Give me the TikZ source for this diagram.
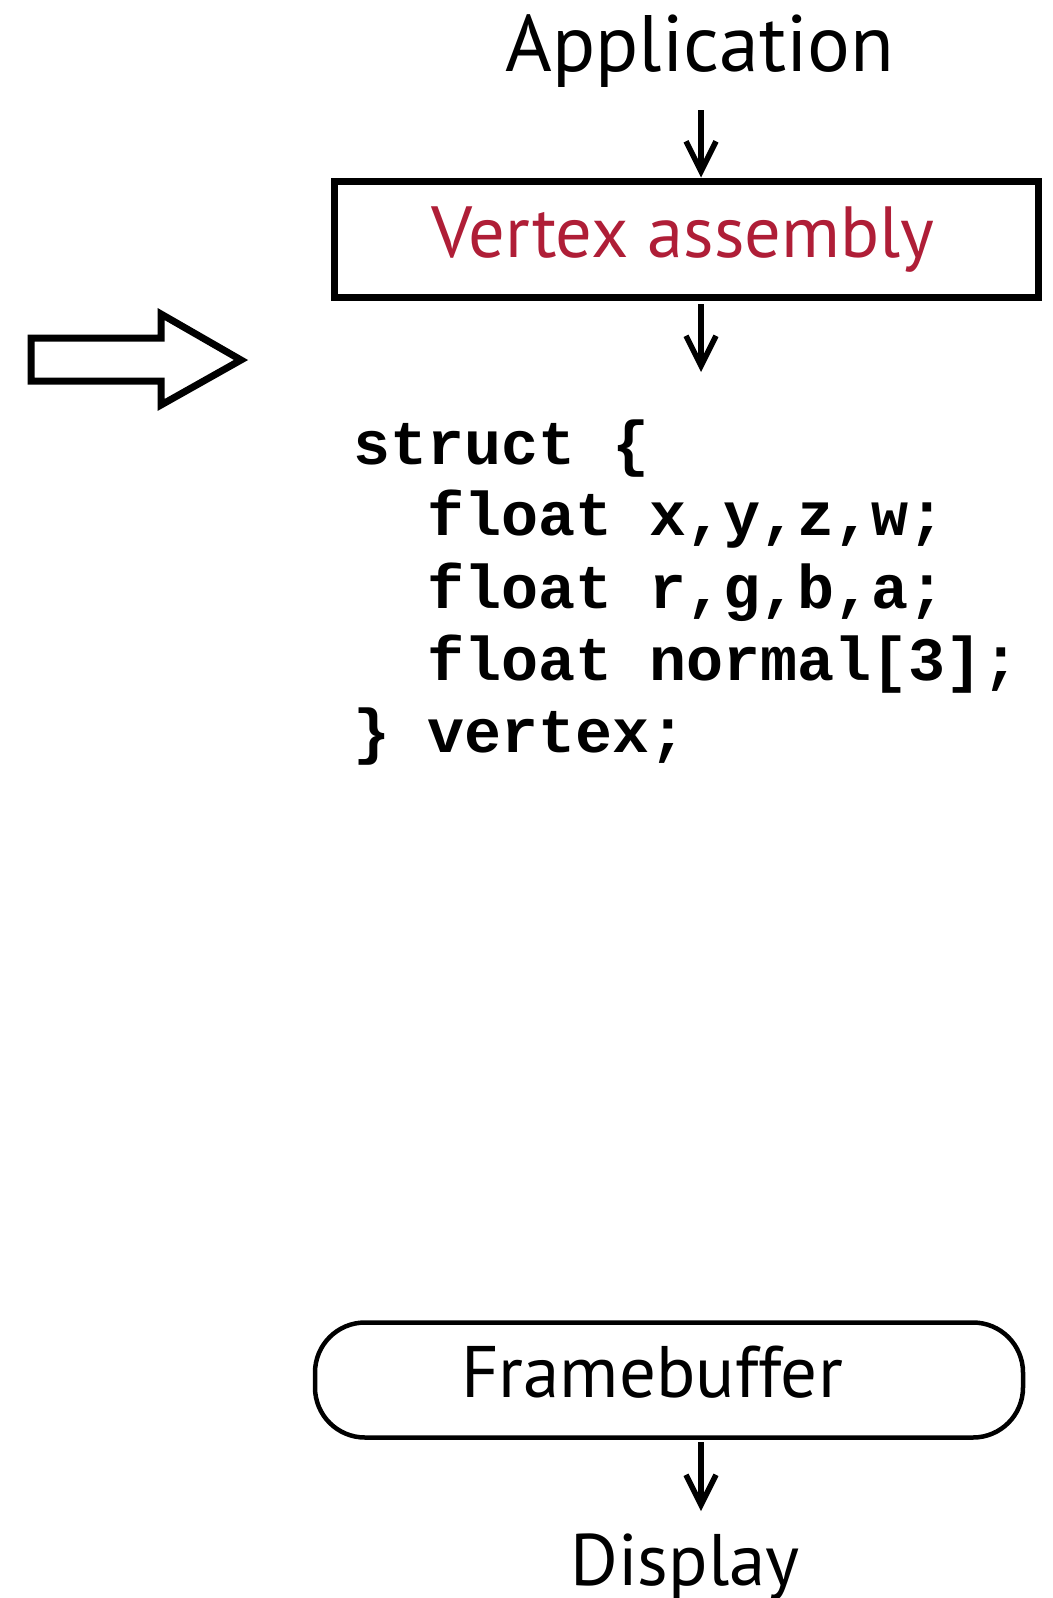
\documentclass[tikz,border=0pt]{standalone}
\usepackage{fontspec}
\setmainfont{PT Sans}
\newfontfamily\codefont{Liberation Mono}
\usetikzlibrary{arrows.meta}

\definecolor{vred}{RGB}{175,30,55}

\tikzset{
  flow/.style={line width=5.5pt,-{Straight Barb[length=30pt,width=30pt,line width=5.5pt]}},
  label/.style={anchor=base,inner sep=0pt,font=\fontsize{80}{90}\selectfont},
  codeline/.style={anchor=base west,inner sep=0pt,font=\codefont\bfseries\fontsize{61.7}{72}\selectfont}
}

\begin{document}
\begin{tikzpicture}[x=1pt,y=-1pt]
\useasboundingbox (0,0) rectangle (1052,1598);

% top of the pipeline
\node[label] (app) at (700,71) {Application};
\node[draw,line width=7pt,minimum width=704pt,minimum height=116pt,inner sep=0pt] (vasm) at (686,239) {};
\node[label,text=vred,font=\fontsize{72.5}{82}\selectfont] (vasmtxt) at (683,257) {Vertex assembly};

\coordinate (a1) at (701,110);
\coordinate (a2) at (701,304);
\coordinate (a2end) at (701,372);

\draw[flow] (a1) -- (a1 |- vasm.north);
\draw[flow] (a2) -- (a2end);

% vertex struct
\node[codeline] (code1) at (353,464) {struct \{};
\node[codeline] (code2) at (427,535) {float x,y,z,w;};
\node[codeline] (code3) at (427,608) {float r,g,b,a;};
\node[codeline] (code4) at (427,680) {float normal[3];};
\node[codeline] (code5) at (353,752) {\} vertex;};

% block arrow
\draw[line width=7pt,miter limit=10] (31,338) -- (161,338) -- (161,314) -- (241,360)
  -- (161,405) -- (161,381) -- (31,381) -- cycle;

% bottom of the pipeline
\node[draw,line width=4.5pt,rounded corners=50pt,minimum width=708pt,minimum height=115pt,inner sep=0pt] (fbuf) at (669,1380) {};
\node[label,font=\fontsize{73}{83}\selectfont] (fbuftxt) at (652,1397) {Framebuffer};
\node[label,font=\fontsize{73}{83}\selectfont] (disp) at (685,1585) {Display};

\coordinate (a3) at (701,1442);
\coordinate (a3end) at (701,1511);
\draw[flow] (a3) -- (a3end);
\end{tikzpicture}
\end{document}
